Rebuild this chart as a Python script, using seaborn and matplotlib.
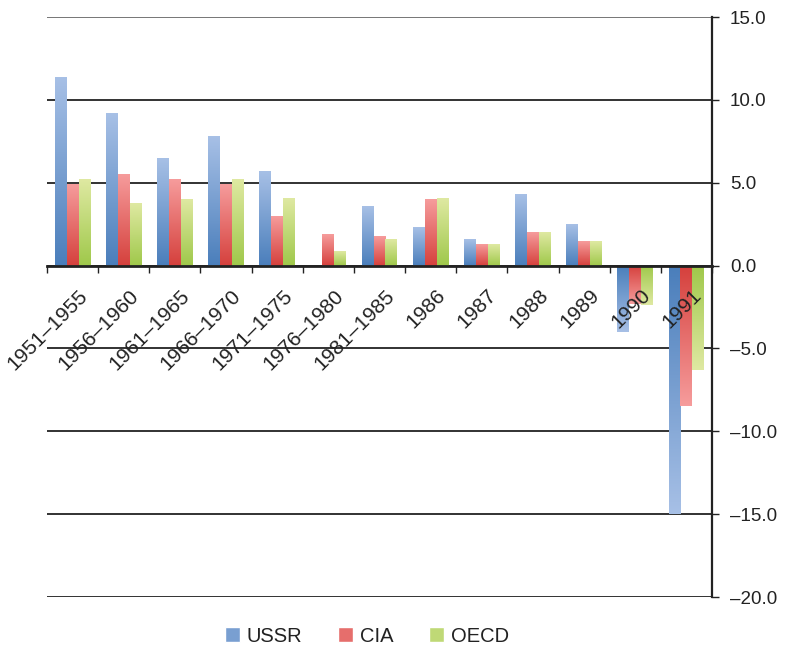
import numpy as np
import pandas as pd
import seaborn as sns
import matplotlib.pyplot as plt
from matplotlib.colors import to_rgb
from matplotlib.patches import Patch
from matplotlib.transforms import ScaledTranslation

# data
periods = ['1951–1955', '1956–1960', '1961–1965', '1966–1970', '1971–1975',
           '1976–1980', '1981–1985', '1986', '1987', '1988', '1989', '1990', '1991']
ussr = [11.4, 9.2, 6.5, 7.8, 5.7, np.nan, 3.6, 2.3, 1.6, 4.3, 2.5, -4.0, -15.0]
cia = [4.9, 5.5, 5.2, 4.9, 3.0, 1.9, 1.8, 4.0, 1.3, 2.0, 1.5, -2.3, -8.5]
oecd = [5.2, 3.8, 4.0, 5.2, 4.1, 0.9, 1.6, 4.1, 1.3, 2.0, 1.5, -2.4, -6.3]
series = ['USSR', 'CIA', 'OECD']
yticks = [15, 10, 5, 0, -5, -10, -15, -20]

# base (dark) and tip (light) colours of each series
dark = {'USSR': '#4a7ebb', 'CIA': '#d5403c', 'OECD': '#9fc84a'}
light = {'USSR': '#a7c0e6', 'CIA': '#f69c9c', 'OECD': '#dfe9a2'}

df = pd.DataFrame({'period': periods * 3,
                   'series': np.repeat(series, len(periods)),
                   'value': ussr + cia + oecd})

sns.set_style('white')
plt.rcParams['font.family'] = ['Liberation Sans', 'DejaVu Sans']

fig = plt.figure(figsize=(7.87, 6.51), dpi=100)
ax = fig.add_axes([47 / 787, 1 - 597 / 651, 665 / 787, 580 / 651])

sns.barplot(data=df, x='period', y='value', hue='series', order=periods,
            hue_order=series, width=0.7, gap=0, errorbar=None,
            palette=dark, legend=False, ax=ax)

# gradient fill: dark at the base, light at the tip
for cont, name in zip(ax.containers, series):
    c0 = np.array(to_rgb(dark[name]))
    c1 = np.array(to_rgb(light[name]))
    grad = np.linspace(0, 1, 128)[:, None, None]
    img = c0 + (c1 - c0) * grad
    for bar in cont:
        h = bar.get_height()
        if not np.isfinite(h) or h == 0:
            bar.set_visible(False)
            continue
        x, w = bar.get_x(), bar.get_width()
        im = ax.imshow(img, extent=[x, x + w, 0, h], origin='lower',
                       aspect='auto', zorder=3, interpolation='bilinear')
        im.set_clip_path(bar)
        bar.set_facecolor('none')
        bar.set_edgecolor('none')

ax.set_xlim(-0.5, len(periods) - 0.5)
ax.set_ylim(-20, 15)

# horizontal rules
for v in yticks:
    ax.axhline(v, color='#6b6b6b' if v == 15 else '#222222', lw=1.3, zorder=1)

ax.yaxis.tick_right()
ax.set_yticks(yticks)
ax.set_yticklabels([f'{v:.1f}'.replace('-', '–') for v in yticks])
ax.tick_params(axis='y', right=True, direction='out', length=5, width=1,
               color='#222222', pad=8, labelsize=13.5, labelcolor='#222222')

for s in ['top', 'left']:
    ax.spines[s].set_visible(False)
ax.spines['right'].set_color('#222222')
ax.spines['right'].set_linewidth(1.6)
ax.spines['bottom'].set_position(('data', 0))
ax.spines['bottom'].set_color('#222222')
ax.spines['bottom'].set_linewidth(2)
ax.spines['bottom'].set_zorder(4)

ax.set_xticks(range(len(periods)))
ax.set_xticks(np.arange(-0.5, len(periods)), minor=True)
ax.set_xticklabels(periods)
ax.tick_params(axis='x', which='major', length=0, labelsize=15,
               labelcolor='#222222', pad=0)
ax.tick_params(axis='x', which='minor', bottom=True, direction='out',
               length=5, width=1, color='#222222')
ax.xaxis.set_zorder(6)
shift = ScaledTranslation(12 / 100, -27 / 100, fig.dpi_scale_trans)
for lab in ax.get_xticklabels():
    lab.set_rotation(45)
    lab.set_ha('right')
    lab.set_va('center')
    lab.set_rotation_mode('anchor')
    lab.set_transform(lab.get_transform() + shift)
ax.set_xlabel('')
ax.set_ylabel('')

mid = {n: tuple((np.array(to_rgb(dark[n])) + np.array(to_rgb(light[n]))) / 2)
       for n in series}
handles = [Patch(facecolor=mid[n], label=n) for n in series]
fig.legend(handles=handles, loc='lower center', bbox_to_anchor=(0.466, -0.02),
           ncol=3, frameon=False, fontsize=14.5, handlelength=0.75,
           handleheight=0.75, handletextpad=0.35, columnspacing=1.75,
           labelcolor='#222222')

fig.savefig('out.png', dpi=100)
